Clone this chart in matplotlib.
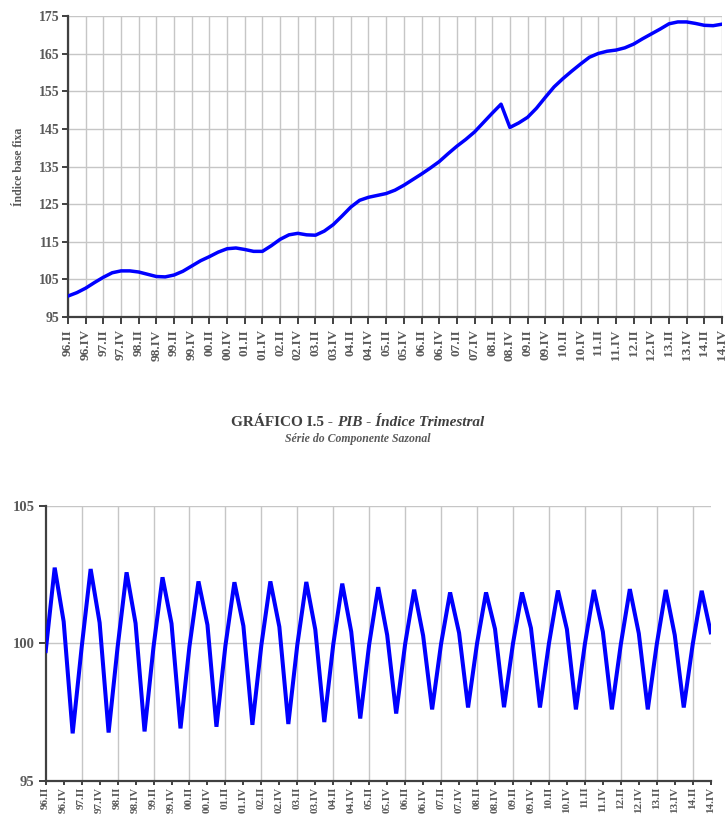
import matplotlib.pyplot as plt
import numpy as np

plt.rcParams["font.family"] = ["Liberation Serif", "DejaVu Serif"]

W, H = 726, 817

# índice base fixa, 96.II .. 14.IV (trimestral)
INDICE_BASE_FIXA = [
    100.5, 101.4, 102.6,
    104.1, 105.5, 106.7, 107.2,
    107.2, 106.9, 106.3, 105.7,
    105.6, 106.1, 107.1, 108.5,
    109.9, 111.0, 112.2, 113.1,
    113.3, 112.9, 112.4, 112.4,
    113.9, 115.6, 116.8, 117.2,
    116.8, 116.7, 117.8, 119.5,
    121.8, 124.2, 126.0, 126.8,
    127.3, 127.8, 128.7, 130.0,
    131.5, 133.0, 134.6, 136.3,
    138.4, 140.4, 142.2, 144.2,
    146.7, 149.2, 151.6, 145.4,
    146.6, 148.1, 150.5, 153.4,
    156.2, 158.4, 160.4, 162.3,
    164.1, 165.1, 165.7, 166.0,
    166.6, 167.6, 169.0, 170.3,
    171.6, 173.0, 173.5, 173.5,
    173.1, 172.6, 172.5, 172.9,
]

# componente sazonal, 96.II .. 14.IV
COMPONENTE_SAZONAL = [
    99.72, 102.75, 100.79,
    96.73, 99.85, 102.70, 100.75,
    96.76, 99.86, 102.58, 100.73,
    96.80, 99.88, 102.40, 100.72,
    96.91, 99.90, 102.25, 100.67,
    96.97, 99.92, 102.22, 100.63,
    97.04, 99.94, 102.25, 100.60,
    97.07, 99.95, 102.23, 100.50,
    97.14, 99.96, 102.17, 100.42,
    97.27, 99.97, 102.04, 100.30,
    97.45, 99.98, 101.95, 100.28,
    97.60, 99.99, 101.85, 100.38,
    97.67, 100.00, 101.85, 100.52,
    97.68, 100.00, 101.85, 100.55,
    97.67, 100.00, 101.92, 100.51,
    97.60, 99.98, 101.94, 100.42,
    97.60, 99.97, 101.97, 100.36,
    97.60, 99.97, 101.94, 100.30,
    97.67, 99.97, 101.91, 100.40,
]

TICK_LABELS = [
    "96.II", "96.IV", "97.II", "97.IV", "98.II", "98.IV", "99.II", "99.IV",
    "00.II", "00.IV", "01.II", "01.IV", "02.II", "02.IV", "03.II", "03.IV",
    "04.II", "04.IV", "05.II", "05.IV", "06.II", "06.IV", "07.II", "07.IV",
    "08.II", "08.IV", "09.II", "09.IV", "10.II", "10.IV", "11.II", "11.IV",
    "12.II", "12.IV", "13.II", "13.IV", "14.II", "14.IV",
]

TOP_YTICKS = [95, 105, 115, 125, 135, 145, 155, 165, 175]
BOTTOM_YTICKS = [95, 100, 105]

TEXT_GRAY = "#595959"
AXIS_GRAY = "#404040"
GRID_GRAY = "#c6c6c6"
LINE_BLUE = "#0000ff"

x = np.arange(len(INDICE_BASE_FIXA))
tick_pos = np.arange(0, len(x), 2)


def px_axes(left, top, right, bottom):
    return [left / W, 1 - bottom / H, (right - left) / W, (bottom - top) / H]


def style_axes(ax, ylabel_size, xlabel_size):
    for side in ["top", "right"]:
        ax.spines[side].set_visible(False)
    for side in ["left", "bottom"]:
        ax.spines[side].set_color(AXIS_GRAY)
        ax.spines[side].set_linewidth(1.6)
    ax.tick_params(axis="y", direction="out", length=4, width=1.4, color=AXIS_GRAY,
                   labelsize=ylabel_size, labelcolor=TEXT_GRAY, pad=2)
    ax.tick_params(axis="x", direction="out", length=4, width=1.4, color=AXIS_GRAY,
                   labelsize=xlabel_size, labelcolor=TEXT_GRAY, pad=2)
    for lab in ax.get_yticklabels() + ax.get_xticklabels():
        lab.set_fontweight("bold")


fig = plt.figure(figsize=(W / 100, H / 100), dpi=100)

# ---- gráfico de cima
ax1 = fig.add_axes(px_axes(68, 16.3, 722, 316.7))
ax1.plot(x, INDICE_BASE_FIXA, color=LINE_BLUE, lw=2.5, solid_joinstyle="round", zorder=3)
ax1.set_xlim(0, len(x) - 1)
ax1.set_ylim(95, 175)
ax1.set_yticks(TOP_YTICKS)
ax1.set_xticks(tick_pos)
ax1.set_xticklabels(TICK_LABELS, rotation=90, va="top")
ax1.grid(True, color=GRID_GRAY, lw=1.0)
ax1.set_axisbelow(True)
style_axes(ax1, 10, 9.5)
ax1.tick_params(axis="x", length=5, pad=4)
ax1.set_ylabel("Índice base fixa", fontsize=8.5, fontweight="bold", color=TEXT_GRAY, labelpad=10)

# ---- título do gráfico de baixo
renderer = fig.canvas.get_renderer()
cx, ty = 358 / W, 1 - 423 / H
t1 = fig.text(0, ty, "GRÁFICO I.5 - ", fontsize=11, fontweight="bold", color=AXIS_GRAY,
              ha="left", va="center")
t2 = fig.text(0, ty, "PIB - Índice Trimestral", fontsize=11, fontweight="bold",
              fontstyle="italic", color=AXIS_GRAY, ha="left", va="center")
w1 = t1.get_window_extent(renderer).width / W
w2 = t2.get_window_extent(renderer).width / W
t1.set_x(cx - (w1 + w2) / 2)
t2.set_x(cx - (w1 + w2) / 2 + w1)
fig.text(cx, 1 - 439 / H, "Série do Componente Sazonal", fontsize=8.5, fontweight="bold",
         fontstyle="italic", color=TEXT_GRAY, ha="center", va="center")

# ---- gráfico de baixo
ax2 = fig.add_axes(px_axes(45.7, 505.7, 710.7, 781))
ax2.plot(x, COMPONENTE_SAZONAL, color=LINE_BLUE, lw=2.9, solid_joinstyle="miter", zorder=3)
ax2.set_xlim(0, len(x) - 1)
ax2.set_ylim(95, 105)
ax2.set_yticks(BOTTOM_YTICKS)
ax2.set_xticks(tick_pos)
ax2.set_xticklabels(TICK_LABELS, rotation=90, va="top")
for pos in tick_pos[2::2]:
    ax2.axvline(pos, color=GRID_GRAY, lw=1.0, zorder=1)
ax2.yaxis.grid(True, color=GRID_GRAY, lw=1.0)
ax2.set_axisbelow(True)
style_axes(ax2, 10.5, 8)
ax2.tick_params(axis="x", length=3, pad=1)
ax2.tick_params(axis="y", length=5, pad=3)

fig.savefig("out.png", dpi=100)
